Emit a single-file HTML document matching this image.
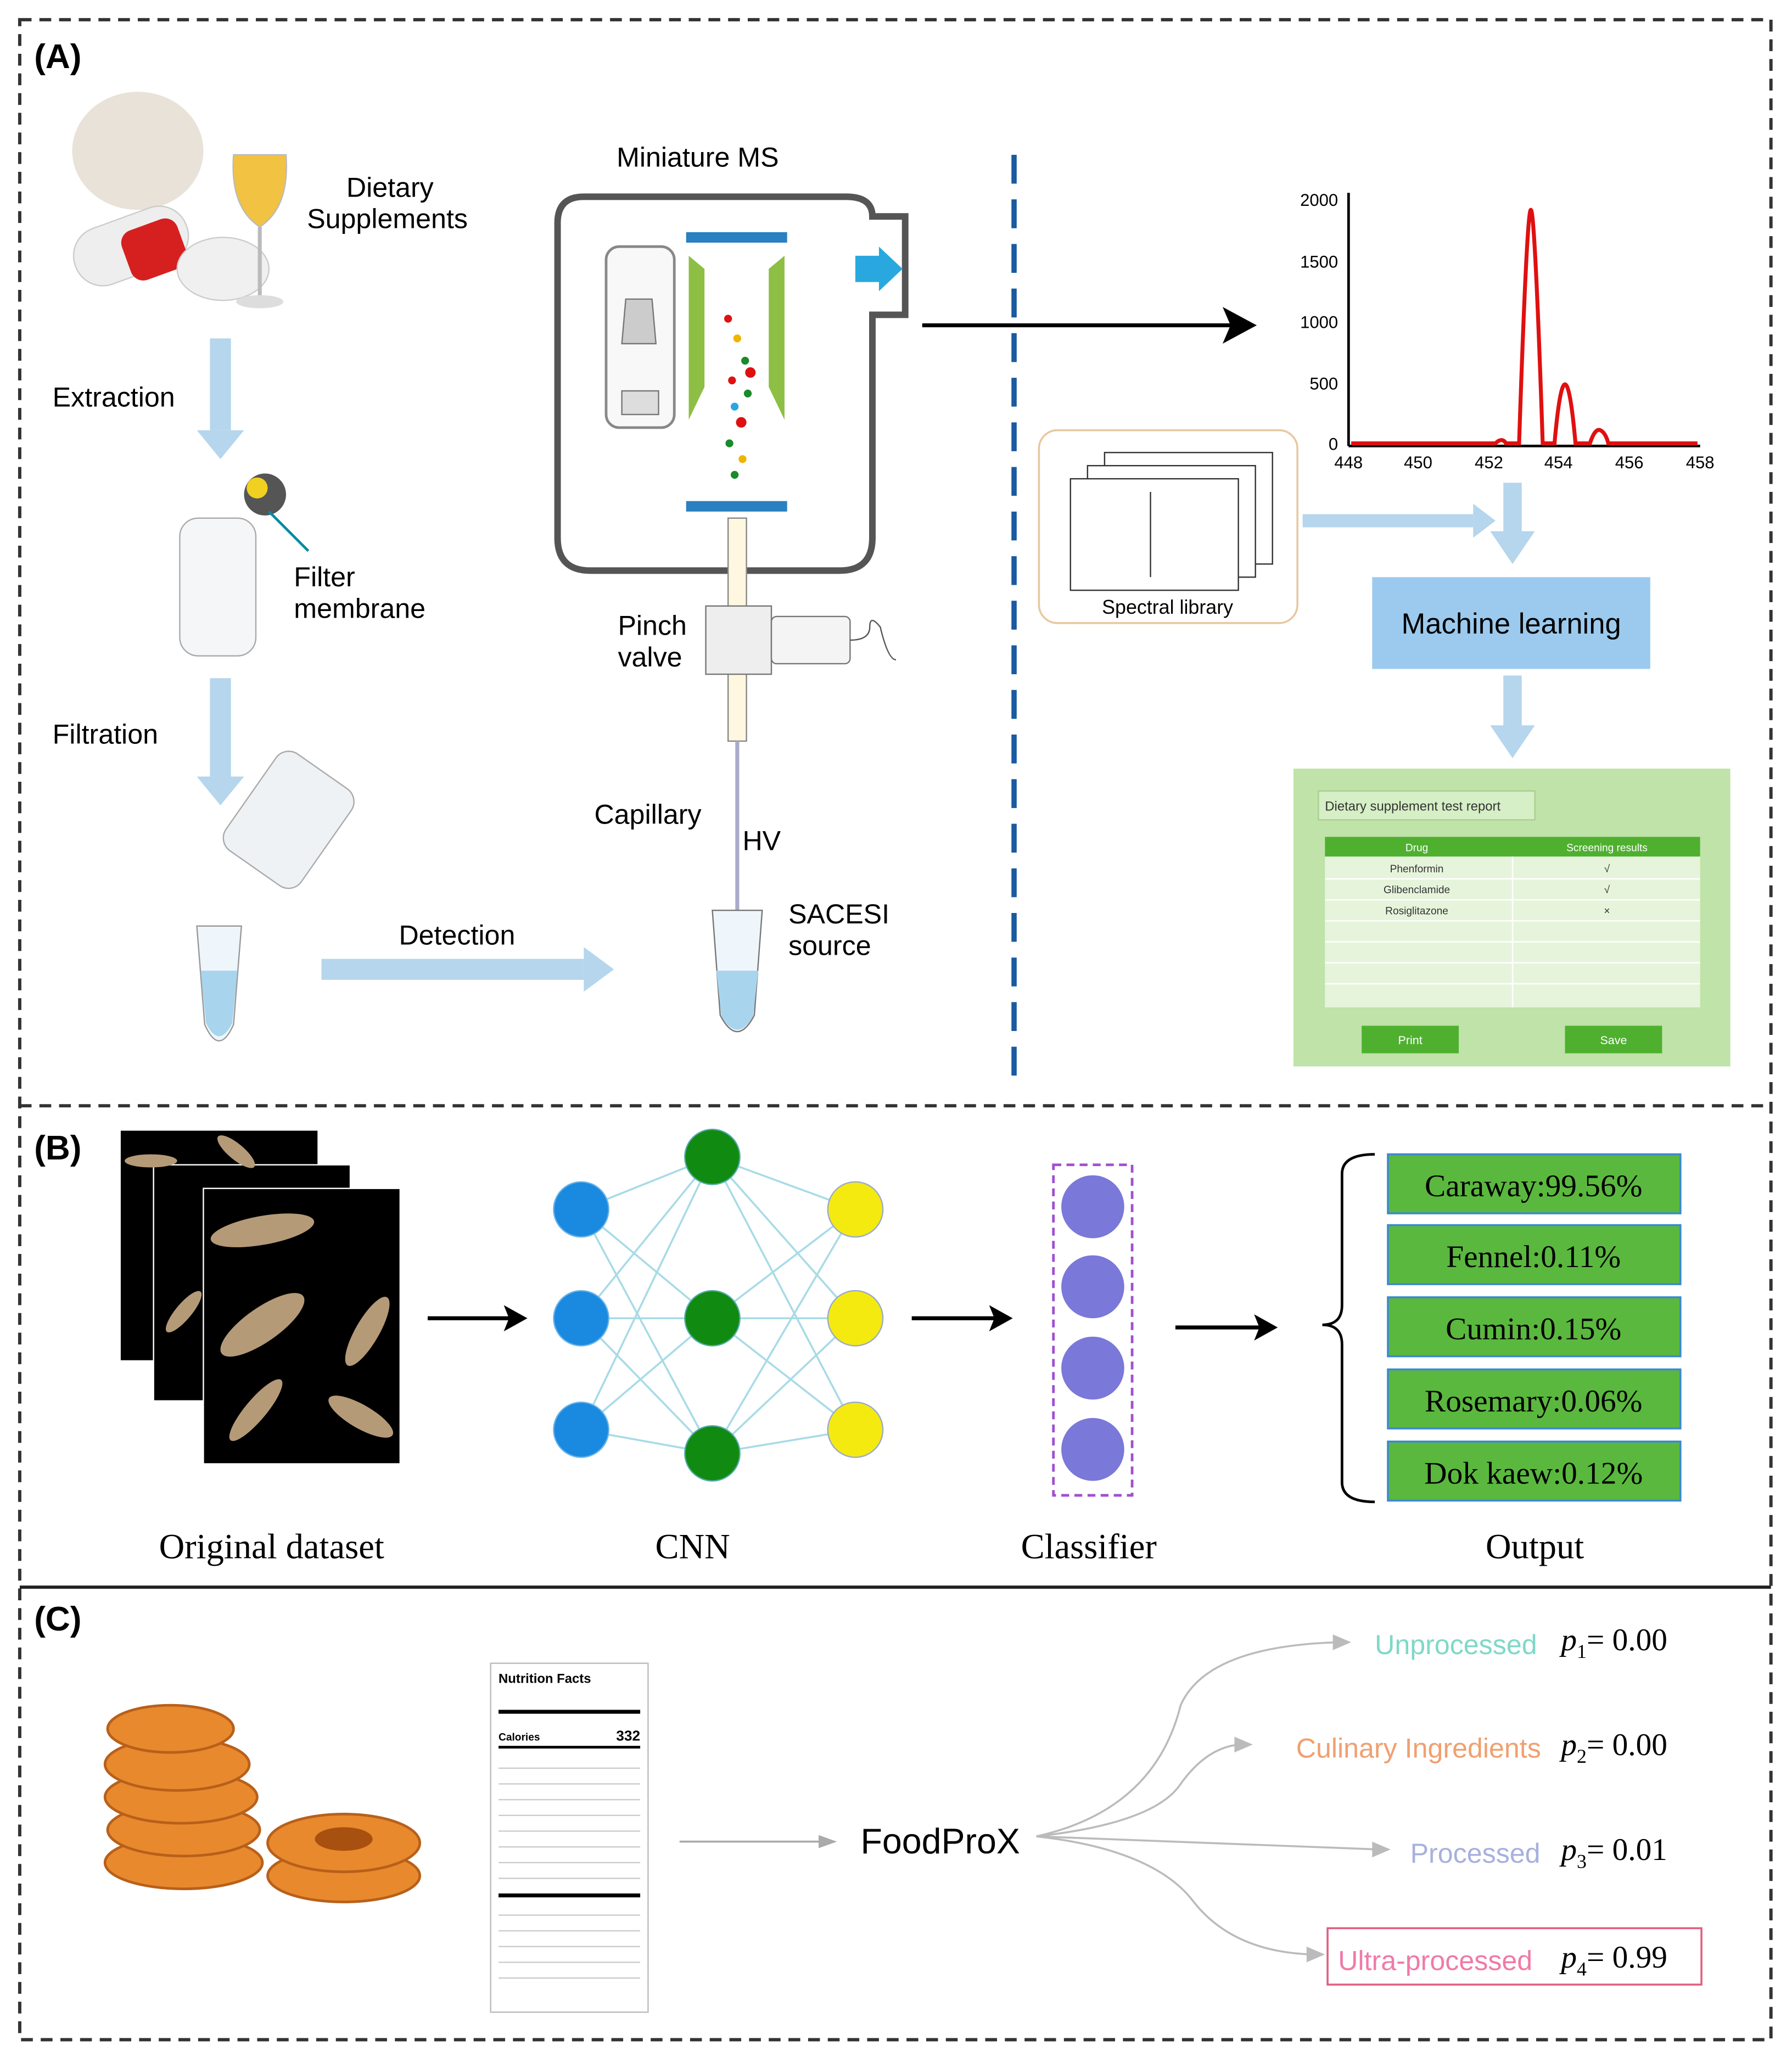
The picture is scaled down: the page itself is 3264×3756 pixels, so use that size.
<!DOCTYPE html>
<html><head><meta charset="utf-8"><style>
html,body{margin:0;padding:0;background:#fff}
svg{display:block;font-family:"Liberation Sans",sans-serif}
</style></head><body>
<svg width="3264" height="3756" viewBox="0 0 1366 1572" xmlns="http://www.w3.org/2000/svg">
<rect width="1366" height="1572" fill="#fff"/>
<!-- borders -->
<rect x="15" y="15" width="1335" height="1540" fill="none" stroke="#333" stroke-width="2.5" stroke-dasharray="9,6"/>
<line x1="15" y1="843" x2="1350" y2="843" stroke="#333" stroke-width="2.5" stroke-dasharray="9,6"/>
<line x1="15" y1="1210" x2="1350" y2="1210" stroke="#222" stroke-width="2.5"/>
<text x="26" y="52" font-size="26" font-weight="bold">(A)</text>
<text x="26" y="884" font-size="26" font-weight="bold">(B)</text>
<text x="26" y="1243" font-size="26" font-weight="bold">(C)</text>

<!-- Panel A left -->
<ellipse cx="105" cy="115" rx="50" ry="45" fill="#e8e2d8"/>
<rect x="55" y="165" width="90" height="45" rx="22" fill="#eee" stroke="#ccc" transform="rotate(-20 100 188)"/>
<rect x="95" y="170" width="45" height="40" rx="10" fill="#d62020" transform="rotate(-20 118 190)"/>
<ellipse cx="170" cy="205" rx="35" ry="24" fill="#f0f0f0" stroke="#ccc"/>
<path d="M178 118 h40 q3 40 -20 55 q-23 -15 -20 -55z" fill="#f2c242" stroke="#bbb"/>
<line x1="198" y1="173" x2="198" y2="228" stroke="#bbb" stroke-width="3"/>
<ellipse cx="198" cy="230" rx="18" ry="5" fill="#ddd"/>
<text x="264" y="150" font-size="21">Dietary</text>
<text x="234" y="174" font-size="21">Supplements</text>
<g fill="#b5d6ec">
<rect x="160" y="258" width="16" height="70"/><polygon points="150,328 186,328 168,350"/>
<rect x="160" y="517" width="16" height="75"/><polygon points="150,592 186,592 168,614"/>
<rect x="245" y="731" width="200" height="16"/><polygon points="445,722 468,739 445,756"/>
</g>
<text x="40" y="310" font-size="21">Extraction</text>
<text x="40" y="567" font-size="21">Filtration</text>
<rect x="137" y="395" width="58" height="105" rx="14" fill="#f4f6f8" stroke="#aaa"/>
<circle cx="202" cy="377" r="16" fill="#555"/><circle cx="196" cy="372" r="8" fill="#f0d020"/>
<line x1="205" y1="390" x2="235" y2="420" stroke="#0a8aa0" stroke-width="2"/>
<text x="224" y="447" font-size="21">Filter</text>
<text x="224" y="471" font-size="21">membrane</text>
<rect x="185" y="580" width="70" height="90" rx="12" fill="#eef2f4" stroke="#aaa" transform="rotate(35 220 625)"/>
<path d="M150 706 h34 l-6 75 q-11 25 -22 0z" fill="#eef6fb" stroke="#999"/>
<path d="M153 740 h28 l-4 40 q-10 20 -20 0z" fill="#a8d4ee"/>
<text x="304" y="720" font-size="21">Detection</text>

<!-- MS -->
<text x="470" y="127" font-size="21">Miniature MS</text>
<path d="M425 170 q0 -20 20 -20 h200 q20 0 20 15 h25 v75 h-25 v170 q0 25 -25 25 h-190 q-25 0 -25 -25z" fill="#fff" stroke="#555" stroke-width="5"/>
<rect x="462" y="188" width="52" height="138" rx="10" fill="#f8f8f8" stroke="#888" stroke-width="2"/>
<polygon points="477,228 497,228 500,262 474,262" fill="#ccc" stroke="#777"/>
<rect x="474" y="298" width="28" height="18" fill="#ddd" stroke="#777"/>
<rect x="523" y="177" width="77" height="8" fill="#2a80c0"/>
<rect x="523" y="382" width="77" height="8" fill="#2a80c0"/>
<polygon points="525,195 537,205 537,295 525,320" fill="#8cbf44"/>
<polygon points="598,195 586,205 586,295 598,320" fill="#8cbf44"/>
<polygon points="652,195 670,195 670,188 688,205 670,222 670,215 652,215" fill="#29a8e0"/>
<g><circle cx="555" cy="243" r="3" fill="#d11"/><circle cx="562" cy="258" r="3" fill="#f0b400"/><circle cx="568" cy="275" r="3" fill="#1a8a2a"/><circle cx="558" cy="290" r="3" fill="#d11"/><circle cx="570" cy="300" r="3" fill="#1a8a2a"/><circle cx="560" cy="310" r="3" fill="#29a8e0"/><circle cx="565" cy="322" r="4" fill="#d11"/><circle cx="556" cy="338" r="3" fill="#1a8a2a"/><circle cx="566" cy="350" r="3" fill="#f0b400"/><circle cx="560" cy="362" r="3" fill="#1a8a2a"/><circle cx="572" cy="284" r="4" fill="#d11"/></g>
<rect x="555" y="395" width="14" height="170" fill="#fff7e0" stroke="#888"/>
<rect x="538" y="462" width="50" height="52" fill="#eee" stroke="#777"/>
<rect x="588" y="470" width="60" height="36" rx="4" fill="#f4f4f4" stroke="#777"/>
<path d="M648 488 q15 0 15 -10 q0 -10 8 0 q6 25 12 25" fill="none" stroke="#555"/>
<text x="471" y="484" font-size="21">Pinch</text>
<text x="471" y="508" font-size="21">valve</text>
<line x1="562" y1="565" x2="562" y2="760" stroke="#aac" stroke-width="3"/>
<text x="453" y="628" font-size="21">Capillary</text>
<text x="566" y="648" font-size="21">HV</text>
<path d="M543 694 h38 l-6 80 q-13 25 -26 0z" fill="#eef6fb" stroke="#777"/>
<path d="M546 740 h32 l-4 35 q-12 20 -24 0z" fill="#a8d4ee"/>
<text x="601" y="704" font-size="21">SACESI</text>
<text x="601" y="728" font-size="21">source</text>

<line x1="773" y1="118" x2="773" y2="822" stroke="#1a5aa0" stroke-width="4" stroke-dasharray="22,12"/>
<line x1="703" y1="248" x2="940" y2="248" stroke="#000" stroke-width="3"/>
<polygon points="958,248 932,234 938,248 932,262" fill="#000"/>

<!-- spectrum -->
<g font-size="13">
<line x1="1028" y1="147" x2="1028" y2="340" stroke="#000" stroke-width="2"/>
<line x1="1028" y1="340" x2="1296" y2="340" stroke="#000" stroke-width="2"/>
<text x="1020" y="157" text-anchor="end">2000</text><text x="1020" y="204" text-anchor="end">1500</text><text x="1020" y="250" text-anchor="end">1000</text><text x="1020" y="297" text-anchor="end">500</text><text x="1020" y="343" text-anchor="end">0</text>
<text x="1028" y="357" text-anchor="middle">448</text><text x="1081" y="357" text-anchor="middle">450</text><text x="1135" y="357" text-anchor="middle">452</text><text x="1188" y="357" text-anchor="middle">454</text><text x="1242" y="357" text-anchor="middle">456</text><text x="1296" y="357" text-anchor="middle">458</text>
<path d="M1030 338 H1140 q5 -5 8 0 H1158 q6 -180 9 -178 q3 0 9 178 H1185 q4 -45 8 -45 q4 0 8 45 H1212 q4 -12 8 -10 q4 2 6 10 H1294" fill="none" stroke="#e01010" stroke-width="3"/>
</g>
<rect x="792" y="328" width="197" height="147" rx="14" fill="#fff" stroke="#e8c8a0" stroke-width="1.5"/>
<rect x="842" y="345" width="128" height="85" fill="#fff" stroke="#333"/>
<rect x="829" y="355" width="128" height="85" fill="#fff" stroke="#333"/>
<rect x="816" y="365" width="128" height="85" fill="#fff" stroke="#333"/>
<line x1="877" y1="375" x2="877" y2="440" stroke="#333"/>
<text x="890" y="468" font-size="15" text-anchor="middle">Spectral library</text>
<g fill="#b5d6ec">
<rect x="993" y="392" width="130" height="10"/><polygon points="1123,384 1140,397 1123,410"/>
<rect x="1146" y="368" width="14" height="40"/><polygon points="1136,405 1170,405 1153,430"/>
<rect x="1146" y="515" width="14" height="40"/><polygon points="1136,553 1170,553 1153,578"/>
</g>
<rect x="1046" y="440" width="212" height="70" fill="#9ccaee"/>
<text x="1152" y="483" font-size="22" text-anchor="middle">Machine learning</text>
<rect x="986" y="586" width="333" height="227" fill="#bfe3a8"/>
<rect x="1005" y="603" width="165" height="22" fill="#d6efc6" stroke="#aacf90"/>
<text x="1010" y="618" font-size="10" fill="#333">Dietary supplement test report</text>
<rect x="1010" y="638" width="286" height="130" fill="#e6f4dc"/>
<rect x="1010" y="638" width="286" height="15" fill="#4fb030"/>
<text x="1080" y="649" font-size="8" fill="#fff" text-anchor="middle">Drug</text>
<text x="1225" y="649" font-size="8" fill="#fff" text-anchor="middle">Screening results</text>
<line x1="1153" y1="653" x2="1153" y2="768" stroke="#fff"/>
<g font-size="8" text-anchor="middle" fill="#333">
<text x="1080" y="665">Phenformin</text><text x="1225" y="665">√</text>
<text x="1080" y="681">Glibenclamide</text><text x="1225" y="681">√</text>
<text x="1080" y="697">Rosiglitazone</text><text x="1225" y="697">×</text></g>
<g stroke="#fff"><line x1="1010" y1="670" x2="1296" y2="670"/><line x1="1010" y1="686" x2="1296" y2="686"/><line x1="1010" y1="702" x2="1296" y2="702"/><line x1="1010" y1="718" x2="1296" y2="718"/><line x1="1010" y1="734" x2="1296" y2="734"/><line x1="1010" y1="750" x2="1296" y2="750"/></g>
<rect x="1038" y="782" width="74" height="21" fill="#4fb030"/><text x="1075" y="796" font-size="9" fill="#fff" text-anchor="middle">Print</text>
<rect x="1193" y="782" width="74" height="21" fill="#4fb030"/><text x="1230" y="796" font-size="9" fill="#fff" text-anchor="middle">Save</text>

<!-- Panel B -->
<rect x="92" y="862" width="150" height="175" fill="#000"/>
<rect x="117" y="888" width="150" height="180" fill="#000" stroke="#fff"/>
<rect x="155" y="906" width="150" height="210" fill="#000" stroke="#fff"/>
<g fill="#b59a78"><ellipse cx="200" cy="938" rx="40" ry="11" transform="rotate(-10 200 938)"/><ellipse cx="200" cy="1010" rx="38" ry="13" transform="rotate(-35 200 1010)"/><ellipse cx="280" cy="1015" rx="30" ry="9" transform="rotate(-60 280 1015)"/><ellipse cx="275" cy="1080" rx="28" ry="9" transform="rotate(30 275 1080)"/><ellipse cx="195" cy="1075" rx="30" ry="8" transform="rotate(-50 195 1075)"/><ellipse cx="115" cy="885" rx="20" ry="5"/><ellipse cx="180" cy="878" rx="18" ry="6" transform="rotate(40 180 878)"/><ellipse cx="140" cy="1000" rx="20" ry="6" transform="rotate(-50 140 1000)"/></g>
<g stroke="#000" stroke-width="3"><line x1="326" y1="1005" x2="390" y2="1005"/><line x1="695" y1="1005" x2="760" y2="1005"/><line x1="896" y1="1012" x2="962" y2="1012"/></g>
<g fill="#000"><polygon points="402,1005 384,995 388,1005 384,1015"/><polygon points="772,1005 754,995 758,1005 754,1015"/><polygon points="974,1012 956,1002 960,1012 956,1022"/></g>
<g stroke="#a8dbe6" stroke-width="1.5">
<line x1="443" y1="922" x2="543" y2="882"/><line x1="443" y1="922" x2="543" y2="1005"/><line x1="443" y1="922" x2="543" y2="1108"/>
<line x1="443" y1="1005" x2="543" y2="882"/><line x1="443" y1="1005" x2="543" y2="1005"/><line x1="443" y1="1005" x2="543" y2="1108"/>
<line x1="443" y1="1090" x2="543" y2="882"/><line x1="443" y1="1090" x2="543" y2="1005"/><line x1="443" y1="1090" x2="543" y2="1108"/>
<line x1="543" y1="882" x2="652" y2="922"/><line x1="543" y1="882" x2="652" y2="1005"/><line x1="543" y1="882" x2="652" y2="1090"/>
<line x1="543" y1="1005" x2="652" y2="922"/><line x1="543" y1="1005" x2="652" y2="1005"/><line x1="543" y1="1005" x2="652" y2="1090"/>
<line x1="543" y1="1108" x2="652" y2="922"/><line x1="543" y1="1108" x2="652" y2="1005"/><line x1="543" y1="1108" x2="652" y2="1090"/></g>
<g fill="#1a8ae0" stroke="#6ab4e8"><circle cx="443" cy="922" r="21"/><circle cx="443" cy="1005" r="21"/><circle cx="443" cy="1090" r="21"/></g>
<g fill="#118a11" stroke="#5aa"><circle cx="543" cy="882" r="21"/><circle cx="543" cy="1005" r="21"/><circle cx="543" cy="1108" r="21"/></g>
<g fill="#f5ea10" stroke="#9ac"><circle cx="652" cy="922" r="21"/><circle cx="652" cy="1005" r="21"/><circle cx="652" cy="1090" r="21"/></g>
<rect x="803" y="888" width="60" height="252" fill="none" stroke="#a050d0" stroke-width="2" stroke-dasharray="6,4"/>
<g fill="#7a78d8"><circle cx="833" cy="920" r="24"/><circle cx="833" cy="981" r="24"/><circle cx="833" cy="1043" r="24"/><circle cx="833" cy="1105" r="24"/></g>
<path d="M1048 880 q-25 0 -25 15 v100 q0 15 -15 15 q15 0 15 15 v105 q0 15 25 15" fill="none" stroke="#000" stroke-width="2"/>
<g fill="#5ab83e" stroke="#3a8ad0" stroke-width="1.5">
<rect x="1058" y="880" width="223" height="45"/><rect x="1058" y="934" width="223" height="45"/><rect x="1058" y="989" width="223" height="45"/><rect x="1058" y="1044" width="223" height="45"/><rect x="1058" y="1099" width="223" height="45"/></g>
<g font-size="24" text-anchor="middle" font-family="Liberation Serif, serif">
<text x="1169" y="912">Caraway:99.56%</text><text x="1169" y="966">Fennel:0.11%</text><text x="1169" y="1021">Cumin:0.15%</text><text x="1169" y="1076">Rosemary:0.06%</text><text x="1169" y="1131">Dok kaew:0.12%</text>
<text x="207" y="1188" font-size="27">Original dataset</text><text x="528" y="1188" font-size="27">CNN</text><text x="830" y="1188" font-size="27">Classifier</text><text x="1170" y="1188" font-size="27">Output</text></g>

<!-- Panel C -->
<g fill="#e8892e" stroke="#b8601a" stroke-width="2">
<ellipse cx="140" cy="1420" rx="60" ry="20"/><ellipse cx="140" cy="1395" rx="58" ry="20"/><ellipse cx="138" cy="1370" rx="58" ry="20"/><ellipse cx="135" cy="1345" rx="55" ry="20"/><ellipse cx="130" cy="1318" rx="48" ry="18"/>
<ellipse cx="262" cy="1430" rx="58" ry="20"/><ellipse cx="262" cy="1405" rx="58" ry="22"/></g>
<ellipse cx="262" cy="1402" rx="22" ry="9" fill="#a85010"/>
<rect x="374" y="1268" width="120" height="266" fill="#fff" stroke="#bbb"/>
<text x="380" y="1283" font-size="10" font-weight="bold">Nutrition Facts</text>
<line x1="380" y1="1305" x2="488" y2="1305" stroke="#000" stroke-width="3"/>
<text x="380" y="1327" font-size="8" font-weight="bold">Calories</text><text x="488" y="1327" font-size="11" font-weight="bold" text-anchor="end">332</text>
<line x1="380" y1="1332" x2="488" y2="1332" stroke="#000" stroke-width="2"/>
<g stroke="#ccc"><line x1="380" y1="1348" x2="488" y2="1348"/><line x1="380" y1="1360" x2="488" y2="1360"/><line x1="380" y1="1372" x2="488" y2="1372"/><line x1="380" y1="1384" x2="488" y2="1384"/><line x1="380" y1="1396" x2="488" y2="1396"/><line x1="380" y1="1408" x2="488" y2="1408"/><line x1="380" y1="1420" x2="488" y2="1420"/><line x1="380" y1="1432" x2="488" y2="1432"/><line x1="380" y1="1460" x2="488" y2="1460"/><line x1="380" y1="1472" x2="488" y2="1472"/><line x1="380" y1="1484" x2="488" y2="1484"/><line x1="380" y1="1496" x2="488" y2="1496"/><line x1="380" y1="1508" x2="488" y2="1508"/></g>
<line x1="380" y1="1445" x2="488" y2="1445" stroke="#000" stroke-width="3"/>
<line x1="518" y1="1404" x2="630" y2="1404" stroke="#aaa" stroke-width="1.5"/>
<polygon points="638,1404 624,1399 624,1409" fill="#aaa"/>
<text x="656" y="1413" font-size="27">FoodProX</text>
<g fill="none" stroke="#bbb" stroke-width="1.5">
<path d="M790 1400 Q880 1380 900 1300 Q920 1255 1020 1252"/>
<path d="M790 1400 Q880 1390 900 1360 Q920 1332 945 1330"/>
<path d="M790 1400 L1052 1410"/>
<path d="M790 1400 Q880 1410 910 1450 Q940 1488 1000 1490"/></g>
<g fill="#bbb"><polygon points="1030,1252 1016,1246 1016,1258"/><polygon points="955,1330 941,1324 941,1336"/><polygon points="1060,1410 1046,1404 1046,1416"/><polygon points="1010,1490 996,1484 996,1496"/></g>
<rect x="1012" y="1470" width="285" height="43" fill="none" stroke="#e06080" stroke-width="1.5"/>
<g font-size="21"><text x="1048" y="1261" fill="#7fd8c8">Unprocessed</text><text x="988" y="1340" fill="#f0a070">Culinary Ingredients</text><text x="1075" y="1420" fill="#a8b0e0">Processed</text><text x="1020" y="1502" fill="#f07aa8">Ultra-processed</text></g>
<g font-family="Liberation Serif, serif" font-size="24">
<text x="1190" y="1258"><tspan font-style="italic">p</tspan><tspan font-size="15" dy="6">1</tspan><tspan dy="-6">= 0.00</tspan></text>
<text x="1190" y="1338"><tspan font-style="italic">p</tspan><tspan font-size="15" dy="6">2</tspan><tspan dy="-6">= 0.00</tspan></text>
<text x="1190" y="1418"><tspan font-style="italic">p</tspan><tspan font-size="15" dy="6">3</tspan><tspan dy="-6">= 0.01</tspan></text>
<text x="1190" y="1500"><tspan font-style="italic">p</tspan><tspan font-size="15" dy="6">4</tspan><tspan dy="-6">= 0.99</tspan></text></g>
</svg>
</body></html>
